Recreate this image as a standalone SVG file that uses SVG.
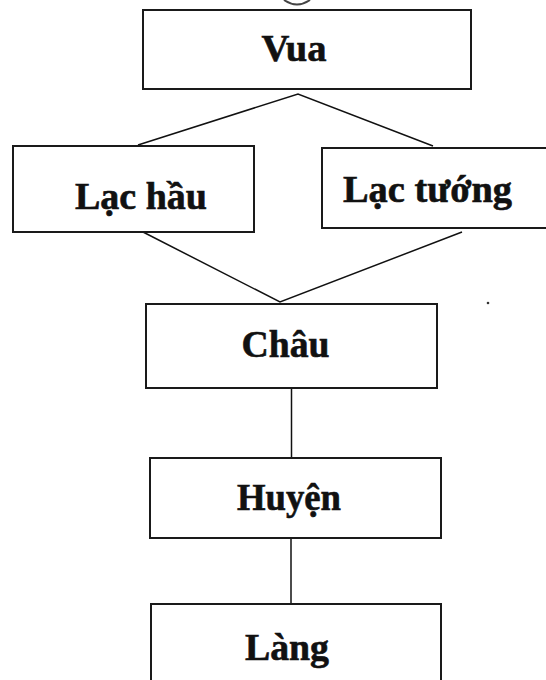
<svg xmlns="http://www.w3.org/2000/svg" width="546" height="680" viewBox="0 0 546 680">
  <style>
    .box { fill: #ffffff; stroke: #1a1a1a; stroke-width: 2; }
    .lbl { font-family: "Liberation Serif", "Times New Roman", serif; font-weight: bold; font-size: 37px; fill: #111111; stroke: #111111; stroke-width: 0.6; text-anchor: middle; }
    .con { stroke: #111111; stroke-width: 1.5; fill: none; }
  </style>
  <rect x="0" y="0" width="546" height="680" fill="#ffffff"/>
  <path d="M 284 0 Q 297 9 310 0" fill="none" stroke="#444" stroke-width="2"/>
  <g id="connectors">
    <polyline class="con" points="138,145 298,94 433,146"/>
    <polyline class="con" points="143,232 280,302 462,232"/>
    <line class="con" x1="291.5" y1="388" x2="291.5" y2="458"/>
    <line class="con" x1="291" y1="538" x2="291" y2="610"/>
  </g>
  <g id="vua">
    <rect class="box" x="143" y="10" width="328" height="79"/>
    <text class="lbl" x="294" y="61" textLength="65" lengthAdjust="spacingAndGlyphs">Vua</text>
  </g>
  <g id="lac-hau">
    <rect class="box" x="13" y="146" width="241" height="86"/>
    <text class="lbl" x="141" y="209" textLength="132" lengthAdjust="spacingAndGlyphs">Lạc hầu</text>
  </g>
  <g id="lac-tuong">
    <rect class="box" x="322" y="148" width="230" height="80"/>
    <text class="lbl" x="427.5" y="202" textLength="169" lengthAdjust="spacingAndGlyphs">Lạc tướng</text>
  </g>
  <g id="chau">
    <rect class="box" x="146" y="304" width="291" height="84"/>
    <text class="lbl" x="285.5" y="357" textLength="88" lengthAdjust="spacingAndGlyphs">Châu</text>
  </g>
  <g id="huyen">
    <rect class="box" x="150" y="458" width="291" height="80"/>
    <text class="lbl" x="289" y="510" textLength="104" lengthAdjust="spacingAndGlyphs">Huyện</text>
  </g>
  <g id="lang">
    <rect class="box" x="151" y="604" width="290" height="90"/>
    <text class="lbl" x="287" y="660" textLength="84" lengthAdjust="spacingAndGlyphs">Làng</text>
  </g>
  <circle cx="488" cy="303" r="1.3" fill="#333"/>
</svg>
